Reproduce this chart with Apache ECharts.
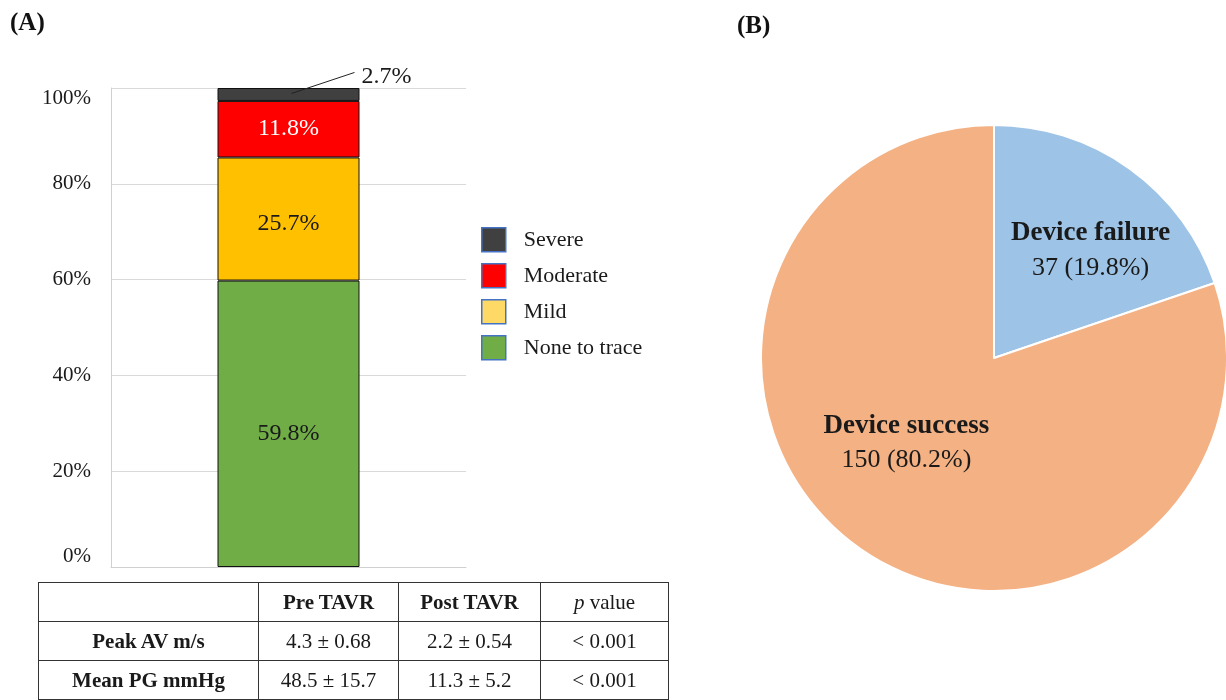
<!DOCTYPE html>
<html>
<head>
<meta charset="utf-8">
<script src="https://cdn.jsdelivr.net/npm/echarts@6/dist/echarts.min.js"></script>
<style>
  html, body { margin: 0; padding: 0; background: #fff; }
  #chart { width: 1226px; height: 700px; }
  #tbl {
    position: absolute; left: 38px; top: 582px;
    border-collapse: collapse;
    font-family: "Liberation Serif", "DejaVu Serif", serif;
    font-size: 21px; color: #1a1a1a;
  }
  #tbl td { border: 1.5px solid #333; text-align: center; padding: 0; height: 38px; }
  #tbl td.b { font-weight: bold; }
</style>
</head>
<body>
<div id="chart"></div>
<table id="tbl"></table>
<script>
const serif = '"Liberation Serif", "DejaVu Serif", serif'

// regurgitation grades, bottom to top of the stacked bar
const grades = ['None to trace', 'Mild', 'Moderate', 'Severe']
const gradeValues = [59.8, 25.7, 11.8, 2.7]
const gradeColors = ['#70AD47', '#FFC000', '#FF0000', '#404040']
const legendColors = ['#70AD47', '#FFD966', '#FF0000', '#404040']
const yTicks = [0, 20, 40, 60, 80, 100]

// device outcome
const outcomeNames = ['Device failure', 'Device success']
const outcomeCounts = [37, 150]
const outcomeColors = ['#9DC3E6', '#F4B183']

// haemodynamics table
const tableHead = ['', 'Pre TAVR', 'Post TAVR', '<i>p</i> value']
const tableRows = [
  ['Peak AV m/s', '4.3 &plusmn; 0.68', '2.2 &plusmn; 0.54', '&lt; 0.001'],
  ['Mean PG mmHg', '48.5 &plusmn; 15.7', '11.3 &plusmn; 5.2', '&lt; 0.001']
]
const colWidths = [219, 139, 141, 127]

// build table
const tbl = document.getElementById('tbl')
;[tableHead, ...tableRows].forEach((row, ri) => {
  const tr = document.createElement('tr')
  row.forEach((cell, ci) => {
    const td = document.createElement('td')
    td.innerHTML = cell
    td.style.width = colWidths[ci] + 'px'
    if (ci === 0 || (ri === 0 && ci < 3)) td.className = 'b'
    tr.appendChild(td)
  })
  tbl.appendChild(tr)
})

const labelColors = ['#1a1a1a', '#1a1a1a', '#ffffff', '#1a1a1a']
const labelOffsets = [[0, 10], [0, 5], [0, 0], [0, 0]]

// 2.7% callout: label moved up-right of the thin top segment
function severeLayout(params) {
  const r = params.rect
  return {
    x: r.x + r.width / 2 + 73,
    y: r.y + r.height / 2 - 18,
    align: 'left',
    verticalAlign: 'middle'
  }
}

const barSeries = grades.map((g, i) => ({
  name: g,
  type: 'bar',
  stack: 'all',
  barWidth: 142,
  data: [gradeValues[i]],
  itemStyle: { color: gradeColors[i], borderColor: '#111', borderWidth: 1 },
  label: {
    show: true,
    position: 'inside',
    formatter: '{c}%',
    color: labelColors[i],
    fontFamily: serif,
    fontSize: 24,
    offset: labelOffsets[i]
  },
  labelLayout: g === 'Severe' ? severeLayout : undefined
}))

const option = {
  animation: false,
  backgroundColor: '#fff',
  textStyle: { fontFamily: serif },
  title: [
    { text: '(A)', left: 5, top: 6, textStyle: { fontFamily: serif, fontSize: 25, fontWeight: 'bold', color: '#111' } },
    { text: '(B)', left: 732, top: 9, textStyle: { fontFamily: serif, fontSize: 25, fontWeight: 'bold', color: '#111' } }
  ],
  grid: { left: 111, right: 760, top: 88, bottom: 133 },
  legend: {
    orient: 'vertical',
    left: 476,
    top: 222,
    itemWidth: 24,
    itemHeight: 24,
    itemGap: 10.5,
    icon: 'rect',
    textStyle: { fontFamily: serif, fontSize: 22, color: '#1a1a1a', padding: [0, 0, 0, 13] },
    data: grades.slice().reverse().map(g => {
      const i = grades.indexOf(g)
      return { name: g, itemStyle: { color: legendColors[i], borderColor: '#4472C4', borderWidth: 1.5 } }
    })
  },
  xAxis: {
    type: 'category',
    data: [''],
    axisLine: { lineStyle: { color: '#d0d0d0' } },
    axisTick: { show: false },
    axisLabel: { show: false }
  },
  yAxis: {
    type: 'value',
    min: yTicks[0],
    max: yTicks[yTicks.length - 1],
    interval: 20,
    axisLine: { show: true, lineStyle: { color: '#d0d0d0' } },
    axisTick: { show: false },
    splitLine: { lineStyle: { color: '#d9d9d9' } },
    axisLabel: {
      formatter: '{value}%', fontFamily: serif, fontSize: 21, color: '#1a1a1a', margin: 20,
      verticalAlignMinLabel: 'bottom', verticalAlignMaxLabel: 'top'
    }
  },
  series: [
    ...barSeries,
    {
      name: 'Outcome',
      type: 'pie',
      center: [994, 358],
      radius: 233,
      startAngle: 90,
      clockwise: true,
      percentPrecision: 1,
      legendHoverLink: false,
      itemStyle: { borderColor: '#fff', borderWidth: 2 },
      label: {
        show: true,
        position: 'inside',
        formatter: '{n|{b}}\n{v|{c} ({d}%)}',
        rich: {
          n: { fontFamily: serif, fontSize: 27, fontWeight: 'bold', color: '#1a1a1a', lineHeight: 35 },
          v: { fontFamily: serif, fontSize: 26, color: '#1a1a1a', lineHeight: 35 }
        }
      },
      labelLine: { show: false },
      data: outcomeNames.map((n, i) => ({
        name: n,
        value: outcomeCounts[i],
        itemStyle: { color: outcomeColors[i] },
        label: { offset: i === 0 ? [27, -10] : [-18, -12] }
      }))
    }
  ]
}

const myChart = echarts.init(document.getElementById('chart'), null, { renderer: 'canvas' })
myChart.setOption(option)

// leader line for the 2.7% label, anchored inside the severe segment
const sevBase = gradeValues.slice(0, 3).reduce((a, b) => a + b, 0)
const p0 = myChart.convertToPixel({ gridIndex: 0 }, [0, sevBase + gradeValues[3] / 2])
myChart.setOption({
  graphic: [{
    type: 'line',
    shape: { x1: p0[0] + 3, y1: p0[1] - 1, x2: p0[0] + 66, y2: p0[1] - 22 },
    style: { stroke: '#222', lineWidth: 1 },
    z: 100
  }]
})
</script>
</body>
</html>
